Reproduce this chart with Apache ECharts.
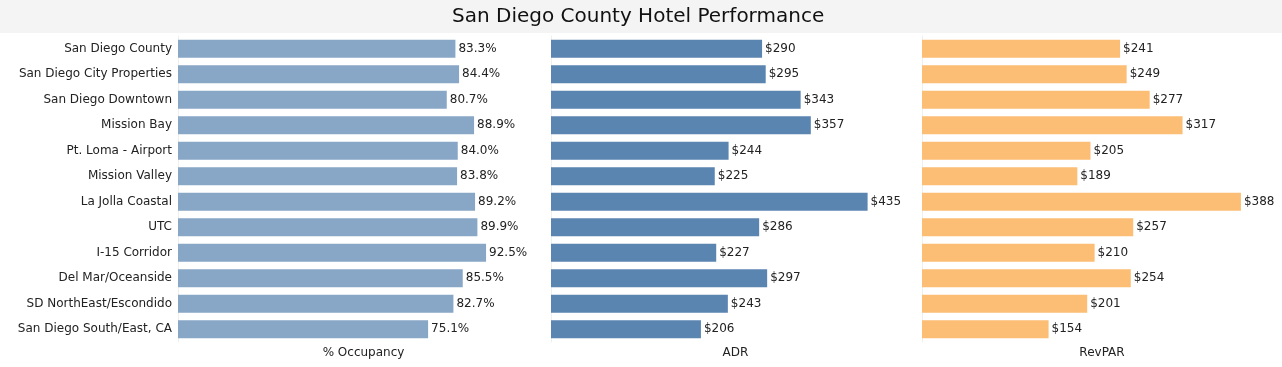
<!DOCTYPE html>
<html>
<head>
<meta charset="utf-8">
<script src="https://cdn.jsdelivr.net/npm/echarts@6/dist/echarts.min.js"></script>
<style>
  html, body { margin: 0; padding: 0; background: #fff; }
  #chart { width: 1282px; height: 367px; }
</style>
</head>
<body>
<div id="chart"></div>
<script>
const categories = [
  "San Diego County", "San Diego City Properties", "San Diego Downtown", "Mission Bay",
  "Pt. Loma - Airport", "Mission Valley", "La Jolla Coastal", "UTC", "I-15 Corridor",
  "Del Mar/Oceanside", "SD NorthEast/Escondido", "San Diego South/East, CA"
];
const occupancy = [83.3, 84.4, 80.7, 88.9, 84.0, 83.8, 89.2, 89.9, 92.5, 85.5, 82.7, 75.1];
const adr = [290, 295, 343, 357, 244, 225, 435, 286, 227, 297, 243, 206];
const revpar = [241, 249, 277, 317, 205, 189, 388, 257, 210, 254, 201, 154];
const panelNames = ["% Occupancy", "ADR", "RevPAR"];

const FONT = "DejaVu Sans";
const chart = echarts.init(document.getElementById('chart'));

const grids = [
  { left: 178, width: 371, top: 36, height: 306 },
  { left: 551, width: 369, top: 36, height: 306 },
  { left: 922, width: 360, top: 36, height: 306 }
];
const maxes = [111.4, 507, 438];
const colors = ['#88a6c6', '#5b85b1', '#fcbd74'];
const fmts = [
  v => v.toFixed(1) + '%',
  v => '$' + v,
  v => '$' + v
];
const datas = [occupancy, adr, revpar];

const option = {
  animation: false,
  graphic: [
    { type: 'rect', left: 0, top: 0, shape: { width: 1282, height: 33 }, style: { fill: '#f4f4f4' }, z: -10 }
  ],
  title: {
    text: 'San Diego County Hotel Performance',
    left: 447,
    top: 2,
    textStyle: { fontFamily: FONT, fontSize: 20, fontWeight: 'normal', color: '#111' }
  },
  grid: grids,
  xAxis: grids.map((g, i) => ({
    type: 'value', gridIndex: i, min: 0, max: maxes[i],
    name: panelNames[i], nameLocation: 'middle', nameGap: 5,
    nameTextStyle: { fontFamily: FONT, fontSize: 12, color: '#222', verticalAlign: 'top' },
    axisLine: { show: false }, axisTick: { show: false }, axisLabel: { show: false },
    splitLine: { show: false }
  })),
  yAxis: grids.map((g, i) => ({
    type: 'category', gridIndex: i, data: categories, inverse: true,
    axisLine: { show: true, lineStyle: { color: '#efefef', width: 1 } },
    axisTick: { show: false },
    axisLabel: { show: i === 0, margin: 6, fontFamily: FONT, fontSize: 12, color: '#222' }
  })),
  series: datas.map((d, i) => ({
    type: 'bar', xAxisIndex: i, yAxisIndex: i, data: d, barWidth: 18,
    itemStyle: { color: colors[i] },
    label: {
      show: true, position: 'right', distance: 3,
      fontFamily: FONT, fontSize: 12, color: '#222',
      formatter: p => fmts[i](p.value)
    }
  }))
};
chart.setOption(option);
</script>
</body>
</html>
